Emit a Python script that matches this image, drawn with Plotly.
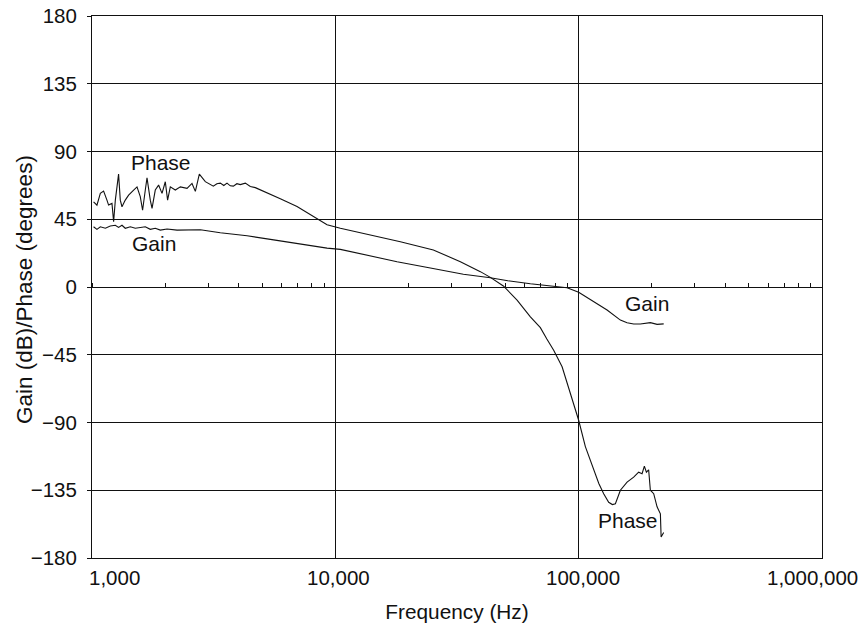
import math
import plotly.graph_objects as go

# Loop response: gain (dB) and phase (degrees) versus frequency (Hz)
phase_freq = [1015, 1048, 1082, 1116, 1152, 1170, 1208, 1227, 1247, 1286, 1307, 1328,
              1370, 1414, 1483, 1531, 1579, 1614, 1656, 1683, 1736, 1765, 1820, 1878,
              1940, 2001, 2045, 2098, 2200, 2307, 2458, 2576, 2659, 2761, 2922, 3064,
              3152, 3260, 3368, 3480, 3588, 3700, 3809, 3940, 4069, 4266, 4473, 4690,
              4918, 5241, 5941, 6959, 8121, 9245, 10486, 13929, 18504, 25283, 32650,
              39447, 43359, 49034, 55827, 63329, 69598, 74000, 78940, 85490, 92450,
              100000, 106540, 115270, 121000, 126700, 132850, 137580, 141560, 148400,
              158100, 168300, 176400, 182200, 186200, 189800, 193900, 197100, 203400,
              210000, 216700, 218200, 223600]
phase_deg = [56.6, 54.4, 62.2, 63.7, 57.7, 54.4, 55.5, 43.3, 57.7, 75.0, 57.7, 53.3,
             57.7, 61.0, 64.4, 66.5, 60.0, 51.0, 64.4, 72.5, 57.7, 52.2, 64.4, 67.7,
             62.2, 69.9, 57.7, 66.5, 64.4, 66.5, 65.5, 68.8, 63.5, 75.0, 70.0, 68.0,
             67.0, 68.6, 69.0, 67.4, 69.0, 67.2, 67.0, 68.6, 68.0, 69.0, 66.8, 66.0,
             64.6, 62.4, 58.6, 53.5, 46.8, 41.3, 39.0, 34.6, 30.0, 24.6, 16.8,
             10.2, 6.4, 0.7, -8.7, -19.8, -27.0, -34.5, -42.0, -53.0, -70.8,
             -88.5, -106.0, -121.8, -130.5, -137.3, -143.0, -144.5, -144.0, -135.0,
             -129.6, -126.3, -123.0, -124.0, -119.0, -123.0, -121.4, -135.0, -137.3,
             -146.0, -150.7, -166.0, -163.0]

gain_freq = [1015, 1048, 1082, 1135, 1189, 1247, 1286, 1328, 1370, 1437, 1507, 1579,
             1656, 1736, 1820, 1909, 2034, 2236, 2458, 2787, 3368, 4338, 5578, 7180,
             9245, 10486, 13036, 17930, 24580, 33590, 43359, 51160, 63329, 76520,
             89620, 100000, 115270, 130840, 148400, 158100, 168300, 179300, 197100,
             210000, 223600]
gain_db = [40.0, 38.3, 40.0, 39.0, 40.5, 41.0, 39.6, 41.0, 39.0, 40.0, 39.0, 39.6,
           40.0, 38.3, 39.0, 37.8, 38.5, 37.8, 37.8, 38.0, 36.0, 34.0, 31.3, 28.6,
           25.8, 25.0, 21.5, 16.8, 12.6, 8.5, 6.2, 4.2, 2.2, 0.8,
           -0.5, -3.5, -9.8, -15.3, -22.0, -23.7, -24.6, -24.6, -23.7,
           -24.8, -24.5]

y_ticks = [-180, -135, -90, -45, 0, 45, 90, 135, 180]
x_tick_vals = [1000, 10000, 100000, 1000000]
x_tick_text = ["1,000", "10,000", "100,000", "1,000,000"]

# curve labels: (text, frequency, value)
curve_labels = [("Phase", 1422, 82.0), ("Gain", 1436, 28.4),
                ("Gain", 152000, -11.9), ("Phase", 118300, -155.5)]

FONT = "Liberation Sans, Arial, Helvetica, sans-serif"
INK = "#111111"

fig = go.Figure()
fig.add_trace(go.Scatter(x=phase_freq, y=phase_deg, mode="lines",
                         line=dict(color=INK, width=1.1), hoverinfo="skip",
                         showlegend=False))
fig.add_trace(go.Scatter(x=gain_freq, y=gain_db, mode="lines",
                         line=dict(color=INK, width=1.1), hoverinfo="skip",
                         showlegend=False))
# invisible carrier for the minor-tick axis sitting on the 0 line
fig.add_trace(go.Scatter(x=gain_freq, y=gain_db, mode="lines", xaxis="x2",
                         opacity=0, hoverinfo="skip", showlegend=False))

fig.update_layout(
    width=864, height=628,
    margin=dict(l=92, r=42, t=16, b=70, autoexpand=False),
    paper_bgcolor="white", plot_bgcolor="white",
    font=dict(family=FONT, color=INK),
    xaxis=dict(type="log", range=[3, 6], dtick=1, showgrid=True,
               gridcolor=INK, gridwidth=1, showline=True, linecolor=INK,
               linewidth=1, mirror=True, ticks="", showticklabels=False,
               zeroline=False, automargin=False,
               title=dict(text="Frequency (Hz)", font=dict(size=20.8), standoff=46)),
    xaxis2=dict(type="log", range=[3, 6], overlaying="x", anchor="free",
                position=0.5, side="top", showgrid=False, showline=False,
                showticklabels=False, ticks="outside", ticklen=4, tickcolor=INK,
                tickwidth=1, dtick=1, zeroline=False, automargin=False,
                minor=dict(ticks="outside", ticklen=4, tickcolor=INK,
                           tickwidth=1, dtick="D1", showgrid=False)),
    yaxis=dict(range=[-180, 180], tickvals=y_ticks, showgrid=True,
               gridcolor=INK, gridwidth=1, showline=True, linecolor=INK,
               linewidth=1, mirror=True, ticks="outside", ticklen=4,
               tickcolor=INK, tickfont=dict(size=20.5), zeroline=False,
               ticklabelstandoff=6, automargin=False),
)

# y axis title
fig.add_annotation(x=0, y=0.5, xref="paper", yref="paper",
                   text="Gain (dB)/Phase (degrees)", textangle=-90,
                   showarrow=False, xanchor="center", yanchor="middle",
                   xshift=-68, yshift=-3, font=dict(size=22.5, color=INK))

# x tick labels, nudged so the end labels stay inside the page
shifts = [("left", -5), ("center", 3), ("center", 4), ("right", 38)]
for val, txt, (anchor, dx) in zip(x_tick_vals, x_tick_text, shifts):
    fig.add_annotation(x=math.log10(val), y=0, xref="x", yref="paper",
                       text=txt, showarrow=False, xanchor=anchor, yanchor="top",
                       xshift=dx, yshift=-6, font=dict(size=20.5, color=INK))

for txt, f, v in curve_labels:
    fig.add_annotation(x=math.log10(f), y=v, xref="x", yref="y", text=txt,
                       showarrow=False, xanchor="left", yanchor="middle",
                       yshift=1, font=dict(size=21, color=INK))

fig.write_html("out.html")
